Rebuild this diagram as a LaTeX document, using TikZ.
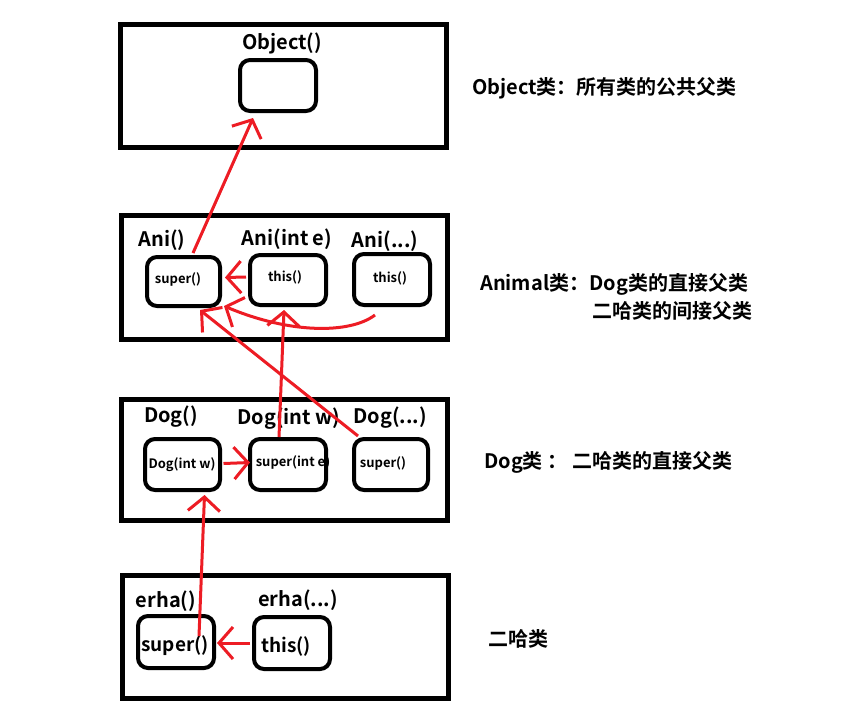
\documentclass[tikz,border=0pt]{standalone}
\usepackage{fontspec}
\setmainfont{Noto Sans CJK SC}[BoldFont={Noto Sans CJK SC Bold}]
\usetikzlibrary{arrows.meta,calc}
\definecolor{pred}{HTML}{ED1C24}
\begin{document}
\begin{tikzpicture}[x=1pt,y=-1pt,
  outerbox/.style={draw, line width=5pt, inner sep=0pt, minimum width=326pt},
  ibox/.style={draw, line width=4pt, rounded corners=10pt, inner sep=0pt, minimum width=76pt, minimum height=51pt},
  lbl/.style={inner sep=0pt, font=\bfseries\fontsize{20}{24}\selectfont},
  sml/.style={inner sep=0pt, font=\bfseries\fontsize{13}{15}\selectfont},
  mid/.style={inner sep=0pt, font=\bfseries\fontsize{19}{22}\selectfont},
  note/.style={inner sep=0pt, anchor=west, font=\bfseries\fontsize{20}{24}\selectfont},
  rarr/.style={draw=pred, line width=3pt, -{Straight Barb[length=14pt,width=32pt]}}
]
\useasboundingbox (0,0) rectangle (866,715);
\fill[white] (0,0) rectangle (866,715);

% outer class boxes
\node[outerbox, minimum height=123pt] (objbox) at (283,86) {};
\node[outerbox, minimum height=124pt] (anibox) at (284.5,277.5) {};
\node[outerbox, minimum height=121pt] (dogbox) at (284.5,460) {};
\node[outerbox, minimum height=123pt] (erhabox) at (285.5,637) {};

% Object
\node[lbl] (lobj) at (282,43) {Object()};
\node[ibox] (obj) at (278,85.5) {};

% Animal
\node[lbl] (lani1) at (162,240) {Ani()};
\node[lbl] (lani2) at (287,239) {Ani(int e)};
\node[lbl] (lani3) at (385,241) {Ani(...)};
\node[ibox, minimum width=73pt, minimum height=49pt] (as) at (183.5,281.5) {};
\node[ibox, minimum height=50pt] (ae) at (288,280) {};
\node[ibox] (ad) at (392,279.5) {};
\node[sml] (tas) at (178,279) {super()};
\node[sml] (tae) at (285,277) {this()};
\node[sml] (tad) at (390,278) {this()};

% Dog
\node[lbl] (ldog1) at (171,417) {Dog()};
\node[lbl] (ldog2) at (289,419) {Dog(int w)};
\node[lbl] (ldog3) at (390,418) {Dog(...)};
\node[ibox, minimum width=75pt] (dd) at (182.5,464.5) {};
\node[ibox] (dw) at (288,464.5) {};
\node[ibox, minimum width=74pt] (dx) at (391,464.5) {};
\node[sml] (tdd) at (182,465) {Dog(int w)};
\node[sml] (tdw) at (293,462) {super(int e)};
\node[sml] (tdx) at (383,463) {super()};

% erha
\node[lbl] (lerha1) at (166,601) {erha()};
\node[lbl] (lerha2) at (298,600) {erha(...)};
\node[ibox, minimum height=52pt] (es) at (176,642) {};
\node[ibox, minimum height=52pt] (et) at (292,643) {};
\node[mid] (tes) at (175,646) {super()};
\node[mid] (tet) at (286,646) {this()};

% notes
\node[note] (n1) at (472,88) {Object类：所有类的公共父类};
\node[note] (n2) at (480,284) {Animal类：Dog类的直接父类};
\node[note, anchor=east] (n3) at (753,311) {二哈类的间接父类};
\node[note] (n4) at (484,462) {Dog类 ： 二哈类的直接父类};
\node[note] (n5) at (488,639) {二哈类};

% red arrows
\draw[rarr] ($(as.north)+(9.5,-2)$) -- ($(obj.south)+(-25,5)$);
\draw[rarr] ($(ae.west)+(-2,-3)$) -- ($(as.east)+(3,-4)$);
\draw[rarr] ($(ad.south)+(-17,8)$) .. controls (350,334) and (290,334) .. ($(as.south east)+(2,-2)$);
\draw[rarr] ($(dw.north)+(-9,0)$) -- ($(ae.south)+(-4,3)$);
\draw[rarr] ($(dx.north)+(-33,-1)$) -- ($(as.south)+(16.5,2)$);
\draw[rarr] ($(dd.east)+(1.5,-1)$) -- ($(dw.west)+(2,-2)$);
\draw[rarr] ($(es.north)+(23,22)$) -- ($(dd.south)+(22,3)$);
\draw[rarr] ($(et.west)+(-2,0)$) -- ($(es.east)+(1,1)$);
\end{tikzpicture}
\end{document}
